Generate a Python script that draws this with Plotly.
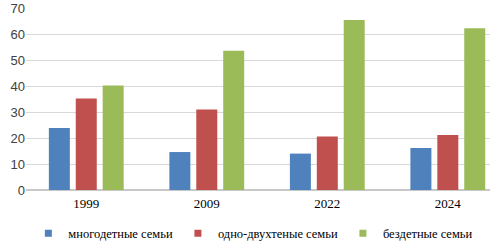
import plotly.graph_objects as go

years = ["1999", "2009", "2022", "2024"]
many = [23.8, 14.6, 14.0, 16.2]
one_two = [35.2, 31.0, 20.6, 21.2]
childless = [40.2, 53.6, 65.4, 62.2]

names = ["многодетные семьи", "одно-двухтеные семьи", "бездетные семьи"]
colors = ["#4F81BD", "#C0504D", "#9BBB59"]

fig = go.Figure()
for name, vals, c in zip(names, [many, one_two, childless], colors):
    fig.add_trace(go.Bar(x=years, y=vals, name=name, marker_color=c, marker_line_width=0,
                         showlegend=False))
for name, c in zip(names, colors):
    fig.add_trace(go.Scatter(x=[None], y=[None], mode="markers", name=name,
                             marker=dict(symbol="square", size=7, color=c)))

fig.update_layout(
    width=490, height=242,
    margin=dict(l=26, r=0, t=8, b=52, autoexpand=False),
    paper_bgcolor="white", plot_bgcolor="white",
    barmode="group", bargap=0.33, bargroupgap=0.22,
    showlegend=True,
    legend=dict(orientation="h", x=0.49, xanchor="center", y=-0.24, yanchor="middle",
                font=dict(family="Liberation Serif", size=12.5, color="#000000"),
                itemwidth=30, traceorder="normal"),
    xaxis=dict(type="category", range=[-0.5, 3.35], showgrid=False, showline=False,
               automargin=False, ticklabelstandoff=4,
               tickfont=dict(family="Liberation Serif", size=13, color="#000000"), ticks=""),
    yaxis=dict(range=[0, 70], dtick=10, showgrid=True, gridcolor="#D9D9D9", gridwidth=1,
               automargin=False,
               zeroline=True, zerolinecolor="#C8C8C8", zerolinewidth=1.5,
               tickfont=dict(family="Liberation Sans", size=13, color="#404040"), ticks=""),
)
fig.write_html("out.html", config={"displayModeBar": False},
               post_script="document.body.style.margin='0';")
